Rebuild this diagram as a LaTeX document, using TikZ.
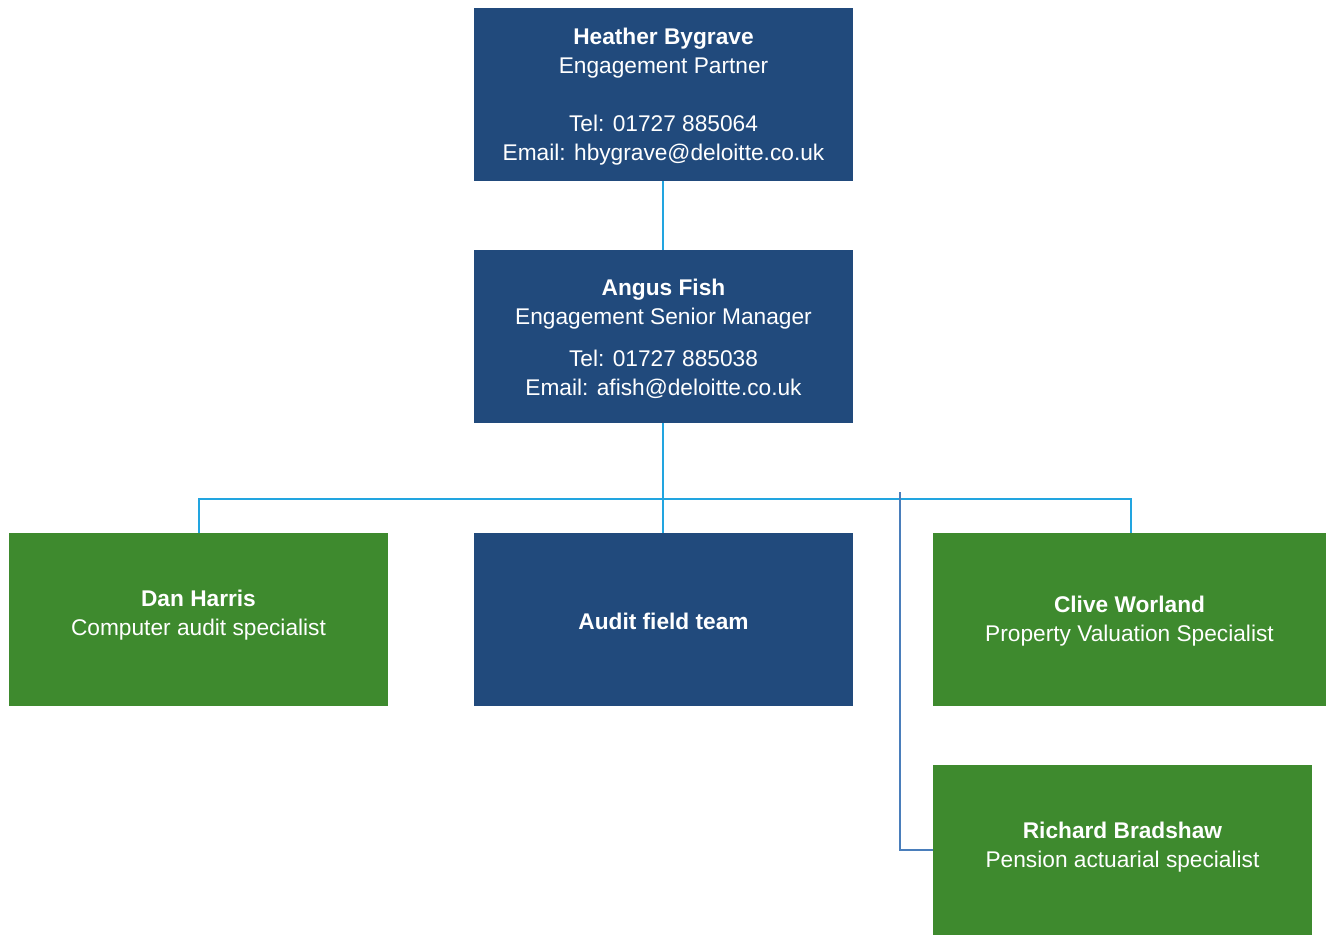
\documentclass[tikz,border=0pt]{standalone}
\usepackage{fontspec}
\setmainfont{Liberation Sans}
\definecolor{boxblue}{HTML}{214A7C}
\definecolor{boxgreen}{HTML}{3E8A2E}
\definecolor{linkcyan}{HTML}{22A5E0}
\definecolor{linkdark}{HTML}{4A7EBB}
\tikzset{
  box/.style={draw=none, inner sep=0pt, text=white, align=center,
    font=\fontsize{22.7}{29}\selectfont},
  bluebox/.style={box, fill=boxblue},
  greenbox/.style={box, fill=boxgreen},
  link/.style={draw=linkcyan, line width=1.8pt},
  darklink/.style={draw=linkdark, line width=1.8pt},
}
\begin{document}
\begin{tikzpicture}[x=1pt,y=-1pt]
\useasboundingbox (0,0) rectangle (1326,935);
% boxes
\node[bluebox, minimum width=379pt, minimum height=173pt] (heather) at (663.5,94.5) {};
\node[box] (heathertext) at (663.5,96.5)
  {\textbf{Heather Bygrave}\\Engagement Partner\\ \\Tel: 01727 885064\\Email: hbygrave@deloitte.co.uk};
\node[bluebox, minimum width=379pt, minimum height=173pt] (angus) at (663.5,336.5) {};
\node[box] (angustext) at (663.5,338.5)
  {\textbf{Angus Fish}\\Engagement Senior Manager\\[13pt]Tel: 01727 885038\\Email: afish@deloitte.co.uk};
\node[greenbox, minimum width=379pt, minimum height=173pt] (dan) at (198.5,619.5) {};
\node[box] (dantext) at (198.5,615.5) {\textbf{Dan Harris}\\Computer audit specialist};
\node[bluebox, minimum width=379pt, minimum height=173pt] (audit) at (663.5,619.5) {};
\node[box] (audittext) at (663.5,621) {\textbf{Audit field team}};
\node[greenbox, minimum width=393pt, minimum height=173pt] (clive) at (1129.5,619.5) {};
\node[box] (clivetext) at (1129.5,621.5) {\textbf{Clive Worland}\\Property Valuation Specialist};
\node[greenbox, minimum width=379pt, minimum height=170pt] (richard) at (1122.5,850) {};
\node[box] (richardtext) at (1122.5,847.5) {\textbf{Richard Bradshaw}\\Pension actuarial specialist};
% connectors
\coordinate (bus) at (663,499);
\coordinate (busL) at (199,499);
\coordinate (busR) at (1131,499);
\coordinate (splitTop) at (900,492);
\draw[link] (heather.south -| bus) -- (angus.north -| bus);
\draw[link] (angus.south -| bus) -- (bus);
\draw[link] (dan.north -| busL) -- (busL) -- (busR) -- (clive.north -| busR);
\draw[link] (bus) -- (audit.north -| bus);
\draw[darklink] (splitTop) |- (richard.west);
\end{tikzpicture}
\end{document}
